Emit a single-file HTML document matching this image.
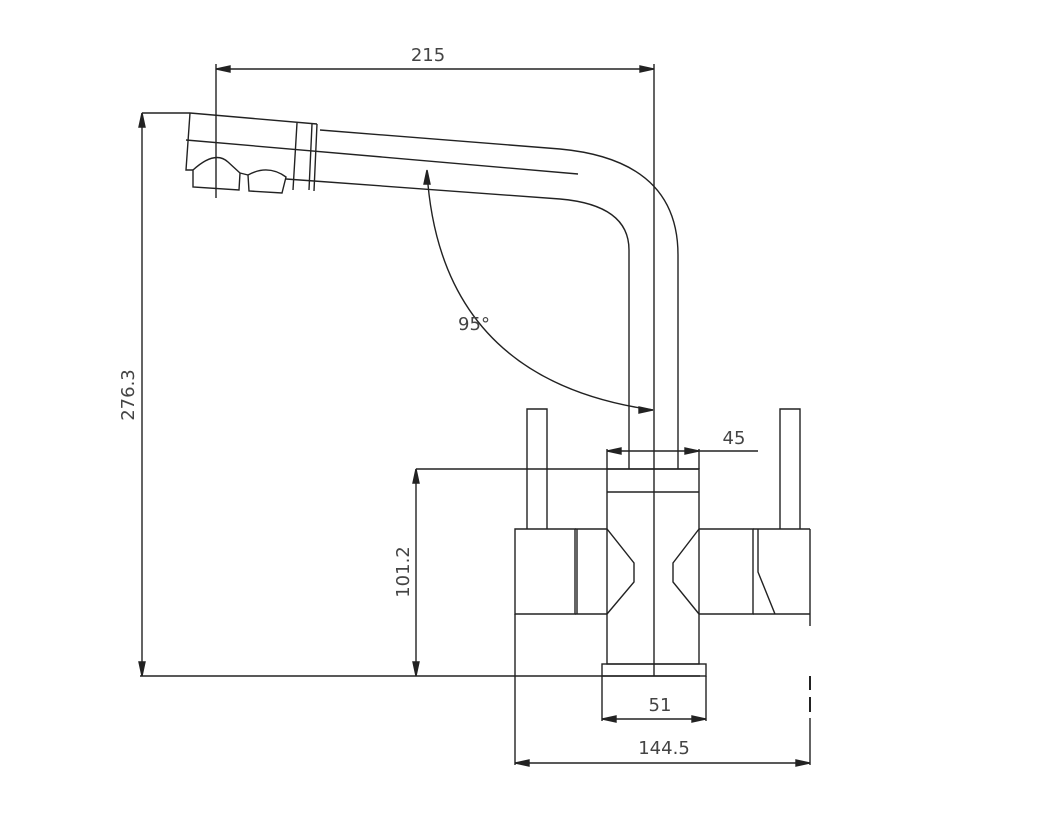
<!DOCTYPE html>
<html><head><style>body{margin:0;background:#fff}svg{display:block}</style></head>
<body>
<svg width="1037" height="840" viewBox="0 0 1037 840" xmlns="http://www.w3.org/2000/svg" fill="none" stroke="#222" stroke-width="1.4" font-family="DejaVu Sans, Liberation Sans, sans-serif">
<!-- spout -->
<path d="M190 113 L317 124"/>
<path d="M190 113 L186 170 L193 170"/>
<path d="M297 123 L293 190 M317 124 L314 191 M312 124 L309 190"/>
<path d="M186 140 L578 174"/>
<path d="M320 130 L560 149 Q678 160 678 255 L678 469"/>
<path d="M314 181 L560 199 Q629 205 629 250 L629 469"/>
<path d="M286 179 L314 181"/>
<path d="M193 170 Q215 150 228 162 L240 173 L239 190 L193 187 Z"/>
<path d="M240 173 L248 175"/>
<path d="M248 175 Q268 164 286 177 L282 193 L249 191 Z"/>
<!-- dims top -->
<path d="M216 69 L654 69 M216 64 L216 198 M654 64 L654 676"/>
<path d="M216 69 l14 -3 v6 z M654 69 l-14 -3 v6 z" fill="#222"/>
<text x="428" y="61" font-size="18" fill="#444" stroke="none" text-anchor="middle">215</text>
<path d="M142 113 L190 113 M142 113 L142 676 M140 676 L700 676"/>
<path d="M142 113 l-3 14 h6 z M142 676 l-3 -14 h6 z" fill="#222"/>
<text x="134" y="395" font-size="18" fill="#444" stroke="none" text-anchor="middle" transform="rotate(-90 134 395)">276.3</text>
<!-- angle -->
<path d="M427 172 Q440 380 653 410"/>
<path d="M427 170 l-3 14 h6 z M653 410 l-14 -3 v6 z" fill="#222"/>
<text x="474" y="330" font-size="18" fill="#444" stroke="none" text-anchor="middle">95°</text>
<!-- levers -->
<path d="M527 529 L527 409 L547 409 L547 529 M780 529 L780 409 L800 409 L800 529"/>
<!-- body -->
<rect x="607" y="469" width="92" height="195"/>
<path d="M607 492 L699 492"/>
<rect x="602" y="664" width="104" height="12"/>
<path d="M515 529 L575 529 L575 614 L515 614 Z M577 529 L577 614"/>
<path d="M575 529 L607 529 L634 563 L634 582 L607 614 L575 614"/>
<path d="M699 529 L673 563 L673 582 L699 614 M699 529 L753 529 L753 614 L699 614"/>
<path d="M753 529 L810 529 M758 529 L758 572 L775 614 L810 614 M753 614 L775 614 L810 614 M810 529 L810 626"/>
<path d="M810 676 L810 690 M810 697 L810 712" stroke-width="2"/>
<!-- 101.2 -->
<path d="M416 469 L699 469 M416 469 L416 676"/>
<path d="M416 469 l-3 14 h6 z M416 676 l-3 -14 h6 z" fill="#222"/>
<text x="409" y="572" font-size="18" fill="#444" stroke="none" text-anchor="middle" transform="rotate(-90 409 572)">101.2</text>
<!-- 45 -->
<path d="M607 451 L758 451 M607 449 L607 469 M699 449 L699 469"/>
<path d="M607 451 l14 -3 v6 z M699 451 l-14 -3 v6 z" fill="#222"/>
<text x="734" y="444" font-size="18" fill="#444" stroke="none" text-anchor="middle">45</text>
<!-- 51 -->
<path d="M602 676 L602 721 M706 676 L706 721 M602 719 L706 719"/>
<path d="M602 719 l14 -3 v6 z M706 719 l-14 -3 v6 z" fill="#222"/>
<text x="660" y="711" font-size="18" fill="#444" stroke="none" text-anchor="middle">51</text>
<!-- 144.5 -->
<path d="M515 614 L515 765 M810 718 L810 765 M515 763 L810 763"/>
<path d="M515 763 l14 -3 v6 z M810 763 l-14 -3 v6 z" fill="#222"/>
<text x="664" y="754" font-size="18" fill="#444" stroke="none" text-anchor="middle">144.5</text>
</svg>
</body></html>
